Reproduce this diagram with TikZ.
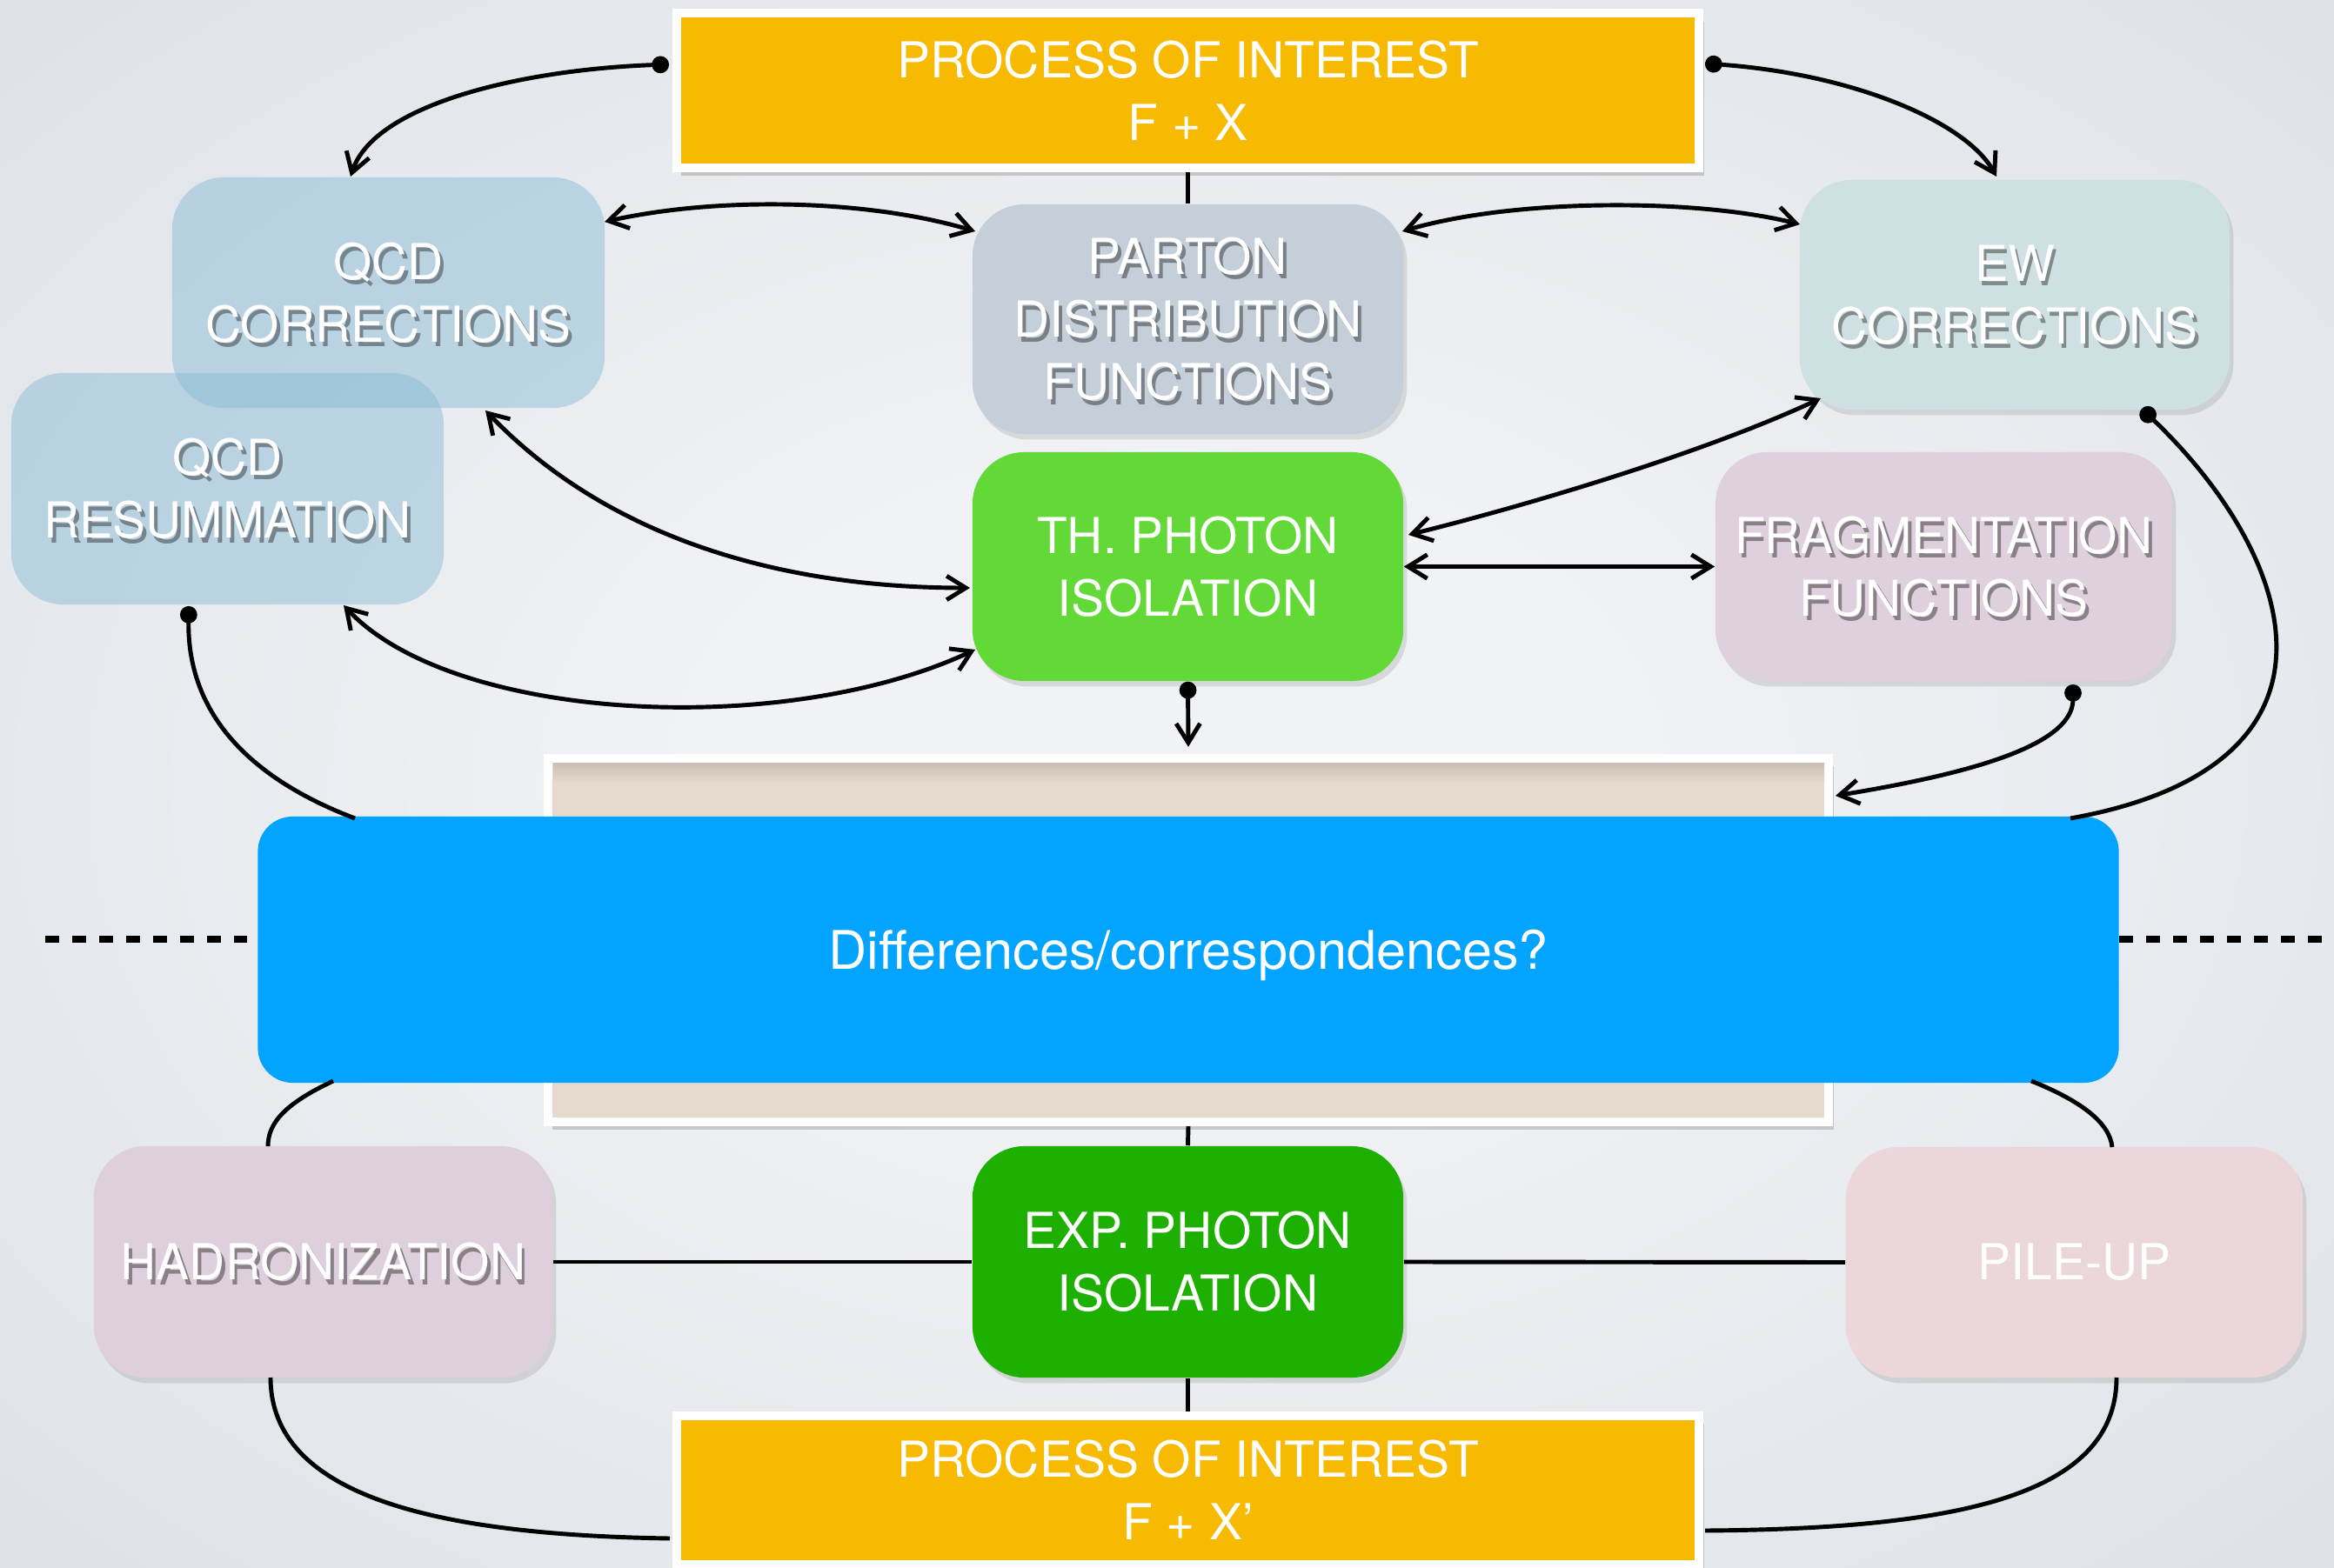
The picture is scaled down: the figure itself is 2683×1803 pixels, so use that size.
\documentclass[tikz,border=0pt]{standalone}
\usepackage{fontspec}
\setmainfont{TeX Gyre Heros}
\usetikzlibrary{arrows.meta,shadows}

\definecolor{bgin}{HTML}{F0F2F5}
\definecolor{bgout}{HTML}{DCE0E5}
\definecolor{poiyellow}{HTML}{F7BA00}
\definecolor{qcdblue}{HTML}{83B8D4}
\definecolor{qcdvis}{HTML}{BED5E3}
\definecolor{pdfgray}{HTML}{C4CFDA}
\definecolor{thgreen}{HTML}{62D937}
\definecolor{expgreen}{HTML}{1EB000}
\definecolor{ewteal}{HTML}{CEE0E2}
\definecolor{fragpink}{HTML}{DED0DC}
\definecolor{hadrpink}{HTML}{DDCFDB}
\definecolor{pilepink}{HTML}{EBD7DA}
\definecolor{framebeige}{HTML}{E5DACD}
\definecolor{framedark}{HTML}{C9BEB2}
\definecolor{diffblue}{HTML}{02A4FF}
\colorlet{tshA}{black!50}

% soft vignette for the slide background
\pgfdeclareradialshading{vignette}{\pgfpoint{0bp}{0bp}}{color(0bp)=(bgin); color(10bp)=(bgin); color(38bp)=(bgout); color(50bp)=(bgout)}

% white caption with a soft embossed shadow
\newcommand\tsh[1]{\leavevmode\rlap{\kern1.1pt\raisebox{-1.5pt}[0pt][0pt]{\textcolor{tshA}{#1}}}#1}

\tikzset{
  barb/.tip={Straight Barb[length=6.3pt,width=7.8pt]},
  blob/.tip={Circle[length=5.6pt]},
  lbl/.style={font=\fontsize{16.2pt}{20.5pt}\selectfont, text=white, align=center},
  pane/.style={lbl, rectangle, rounded corners=17pt, inner sep=0pt},
  paper/.style={lbl, rectangle, draw=white, line width=2.85pt, inner sep=0pt,
    drop shadow={opacity=0.35, shadow xshift=1.6pt, shadow yshift=-2.6pt}},
  softshadow/.style={drop shadow={opacity=0.22, shadow xshift=1.2pt, shadow yshift=-1.8pt}},
  txtshade/.style={execute at begin node={\colorlet{tshA}{#1!62!black}}},
  link/.style={line width=1.4pt, black},
  divider/.style={line width=2pt, black, dash pattern=on 4.5pt off 4.3pt},
}

\begin{document}
\begin{tikzpicture}[x=0.01cm, y=-0.01cm]
\useasboundingbox (0,0) rectangle (2683,1803);
\shade[shading=vignette] (0,0) rectangle (2683,1803);

% dashed theory / experiment divider
\coordinate (dashL) at (52,1080);
\coordinate (dashR) at (2683,1080);

% beige frame behind the central question, with a soft inner shade under its top edge
\node[paper, fill=framebeige, minimum width=14.72cm, minimum height=4.18cm] (frame) at (1366,1081) {};
\shade[top color=framedark, bottom color=framebeige] (636,877) rectangle (2097,900);

% central question
\node[rectangle, rounded corners=11.4pt, fill=diffblue, text=white, inner sep=0pt, text depth=0pt,
  font=\fontsize{17.4pt}{21pt}\selectfont, minimum width=21.38cm, minimum height=3.06cm]
  (diff) at (1366,1092) {Differences/correspondences?};

\draw[divider] (dashL) -- (diff.west |- dashL);
\draw[divider] (diff.east |- dashR) -- (dashR);

% process boxes
\node[paper, fill=poiyellow, minimum width=11.75cm, minimum height=1.77cm] (poi) at (1365.5,104) {PROCESS OF INTEREST\\F + X};
\node[paper, fill=poiyellow, minimum width=11.75cm, minimum height=1.71cm] (poi2) at (1365.5,1713.5) {PROCESS OF INTEREST\\F + X’};

% theory side
\node[pane, fill=qcdblue, fill opacity=0.45, text opacity=1, txtshade=qcdvis, minimum width=4.97cm, minimum height=2.65cm]
  (qcdc) at (446.5,336.5) {\tsh{QCD}\\\tsh{CORRECTIONS}};
\node[pane, fill=qcdblue, fill opacity=0.45, text opacity=1, txtshade=qcdvis, minimum width=4.97cm, minimum height=2.66cm]
  (qcdr) at (261.5,562) {\tsh{QCD}\\\tsh{RESUMMATION}};
\node[pane, softshadow, fill=pdfgray, txtshade=pdfgray, minimum width=4.95cm, minimum height=2.64cm]
  (pdf) at (1365.5,367) {\tsh{PARTON}\\\tsh{DISTRIBUTION}\\\tsh{FUNCTIONS}};
\node[pane, softshadow, fill=thgreen, minimum width=4.95cm, minimum height=2.63cm]
  (thp) at (1365.5,651.5) {TH. PHOTON\\ISOLATION};
\node[pane, softshadow, fill=ewteal, txtshade=ewteal, minimum width=4.94cm, minimum height=2.64cm]
  (ew) at (2316,339) {\tsh{EW}\\\tsh{CORRECTIONS}};
\node[pane, softshadow, fill=fragpink, txtshade=fragpink, minimum width=5.25cm, minimum height=2.63cm]
  (frag) at (2234.5,651.5) {\tsh{FRAGMENTATION}\\\tsh{FUNCTIONS}};

% experiment side
\node[pane, softshadow, fill=hadrpink, txtshade=hadrpink, minimum width=5.27cm, minimum height=2.66cm]
  (hadr) at (371.5,1451) {\tsh{HADRONIZATION}};
\node[pane, softshadow, fill=expgreen, minimum width=4.95cm, minimum height=2.66cm]
  (exp) at (1365.5,1451) {EXP. PHOTON\\ISOLATION};
\node[pane, softshadow, fill=pilepink, minimum width=5.25cm, minimum height=2.65cm]
  (pile) at (2384.5,1451.5) {PILE-UP};

% connector end points
\coordinate (pL) at (769,74);
\coordinate (pR) at (1960,73);
\coordinate (qcTop) at (403,203);
\coordinate (qcR) at (695,255);
\coordinate (qcBR) at (558,472);
\coordinate (qrB) at (395,696);
\coordinate (qrDot) at (217,697);
\coordinate (pdfL) at (1121,266);
\coordinate (pdfR) at (1612,266);
\coordinate (ewL) at (2069,258);
\coordinate (ewTop) at (2295,203);
\coordinate (ewBL) at (2093,458);
\coordinate (ewB) at (2462,470);
\coordinate (thL1) at (1115,676);
\coordinate (thL2) at (1121,747);
\coordinate (thR1) at (1619,615);
\coordinate (frB) at (2383,787);
\coordinate (frmR) at (2110,915);
\coordinate (dTopL) at (408,941);
\coordinate (dTopR) at (2380,941);
\coordinate (dBotL) at (383,1243);
\coordinate (dBotR) at (2335,1243);
\coordinate (hdTop) at (308,1318);
\coordinate (hdBot) at (311,1584);
\coordinate (puTop) at (2428,1319);
\coordinate (puBot) at (2433,1584);
\coordinate (p2L) at (770,1769);
\coordinate (p2R) at (1960,1760);

% theory links
\draw[link, blob-barb] (pL) .. controls (600,80) and (430,120) .. (qcTop);
\draw[link, blob-barb] (pR) .. controls (2130,85) and (2260,140) .. (ewTop);
\draw[link] (poi.south) -- (pdf.north);
\draw[link, barb-barb] (qcR) .. controls (830,225) and (1000,230) .. (pdfL);
\draw[link, barb-barb] (pdfR) .. controls (1740,228) and (1950,228) .. (ewL);
\draw[link, barb-barb] (qcBR) .. controls (700,620) and (900,676) .. (thL1);
\draw[link, barb-barb] (qrB) .. controls (520,830) and (900,850) .. (thL2);
\draw[link, barb-barb] (thR1) .. controls (1760,580) and (1960,520) .. (ewBL);
\draw[link, barb-barb] (thp.east) -- (frag.west);
\draw[link, blob-barb] (thp.south) -- ([yshift=2.3pt]frame.north);
\draw[link, blob-barb] (frB) .. controls (2383,860) and (2250,892) .. (frmR);
\draw[link, blob-] (ewB) .. controls (2640,640) and (2720,880) .. (dTopR);
\draw[link, blob-] (qrDot) .. controls (215,830) and (300,900) .. (dTopL);

% experiment links
\draw[link] (dBotL) .. controls (330,1268) and (308,1290) .. (hdTop);
\draw[link] (dBotR) .. controls (2390,1265) and (2425,1290) .. (puTop);
\draw[link] (frame.south) -- (exp.north);
\draw[link] (exp.south) -- (poi2.north);
\draw[link] (hadr.east) -- (exp.west);
\draw[link] (exp.east) -- (pile.west);
\draw[link] (hdBot) .. controls (311,1720) and (500,1765) .. (p2L);
\draw[link] (p2R) .. controls (2250,1758) and (2433,1720) .. (puBot);
\end{tikzpicture}
\end{document}
